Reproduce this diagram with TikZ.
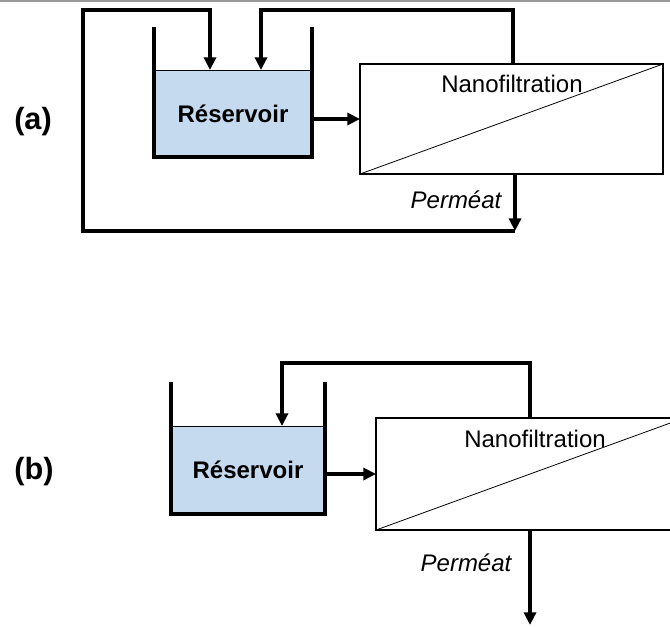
\documentclass[tikz,border=0pt]{standalone}
\usepackage{fontspec}
\setmainfont{Liberation Sans}
\usetikzlibrary{arrows.meta}
\definecolor{liquid}{RGB}{197,217,239}

\begin{document}
\begin{tikzpicture}[x=0.75pt,y=-0.75pt,
	pipe/.style={line width=2.5pt},
	flow/.style={pipe,-{Triangle[length=9.5pt,width=9pt]}},
	wall/.style={line width=2.3pt},
	liq/.style={draw,line width=0.75pt,fill=liquid,inner sep=0,outer sep=0,font=\bfseries\fontsize{18}{20}\selectfont},
	filter/.style={draw,line width=1.5pt,fill=white,inner sep=0,outer sep=0},
	txt/.style={font=\fontsize{18}{20}\selectfont},
	tag/.style={font=\bfseries\fontsize{23}{26}\selectfont}]
	\useasboundingbox (0,0) rectangle (670,626);
	\draw[gray!80,line width=1.2pt] (0,1) -- (670,1);

	\node[liq,minimum width=118.5pt,minimum height=65.25pt] (tankA) at (233,113.5) {Réservoir};
	\draw[wall] (154,27) -- (tankA.south west) -- (tankA.south east) -- (312,27);
	\node[filter,minimum width=227.25pt,minimum height=82.5pt] (filtA) at (511.5,119) {};
	\draw[line width=0.6pt] (filtA.south west) -- (filtA.north east);
	\node[txt] (nanoA) at (512,84) {Nanofiltration};
	\node[txt,font=\itshape\fontsize{18}{20}\selectfont] (permA) at (456,200) {Perméat};
	\node[tag] (labA) at (33,122) {(a)};
	\coordinate (dropA) at (515,231);
	\coordinate (topA) at (513,10);
	\coordinate (inA1) at (210,70);
	\coordinate (inA2) at (261,70);
	\draw[flow] (tankA.east |- filtA.west) -- (filtA.west);
	\draw[flow] (dropA |- filtA.south) -- (dropA);
	\draw[flow] (dropA) -| (83,10) -| (inA1);
	\draw[flow] (topA |- filtA.north) -- (topA) -| (inA2);

	\node[liq,minimum width=115.5pt,minimum height=66pt] (tankB) at (248,470) {Réservoir};
	\draw[wall] (171,382) -- (tankB.south west) -- (tankB.south east) -- (325,382);
	\node[filter,minimum width=231pt,minimum height=84pt] (filtB) at (530,474) {};
	\draw[line width=0.6pt] (filtB.south west) -- (filtB.north east);
	\node[txt] (nanoB) at (535,439) {Nanofiltration};
	\node[txt,font=\itshape\fontsize{18}{20}\selectfont] (permB) at (466,563) {Perméat};
	\node[tag] (labB) at (34,472) {(b)};
	\coordinate (topB) at (530,363);
	\coordinate (inB) at (282,426);
	\coordinate (endB) at (530,625);
	\draw[flow] (tankB.east |- filtB.west) -- (filtB.west);
	\draw[flow] (filtB.north) -- (topB) -| (inB);
	\draw[flow] (filtB.south) -- (endB);
\end{tikzpicture}
\end{document}
